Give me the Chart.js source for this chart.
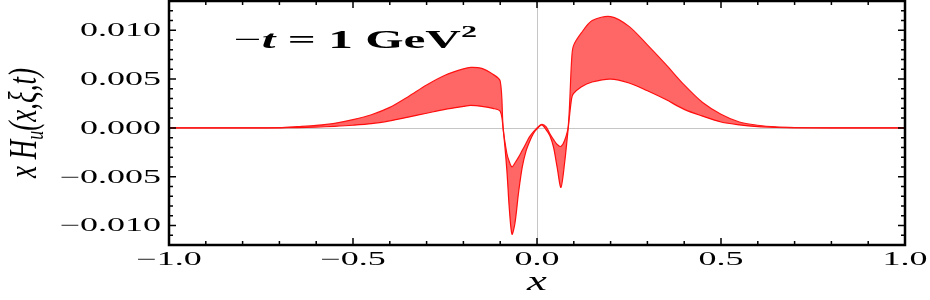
<!DOCTYPE html>
<html>
<head>
<meta charset="utf-8">
<script src="https://cdn.jsdelivr.net/npm/chart.js@4.4.1/dist/chart.umd.min.js"></script>
<style>
  html, body { margin: 0; padding: 0; background: #fff; }
  #wrap { width: 930px; height: 300px; }
</style>
</head>
<body>
<div id="wrap"><canvas id="gpdChart" width="930" height="300"></canvas></div>
<script>
// x H_u(x, xi, t) band at -t = 1 GeV^2
const xValues = [
  -1.0, -0.8, -0.7, -0.65, -0.6, -0.55, -0.5, -0.45, -0.4, -0.35,
  -0.3, -0.25, -0.2, -0.18, -0.15, -0.12, -0.1, -0.092, -0.082, -0.075,
  -0.068, -0.06, -0.05, -0.04, -0.03, -0.02, -0.01, 0, 0.013, 0.025,
  0.035, 0.045, 0.055, 0.065, 0.075, 0.085, 0.094, 0.099, 0.12, 0.15,
  0.2, 0.25, 0.3, 0.35, 0.4, 0.45, 0.5, 0.55, 0.6, 0.65,
  0.7, 0.8, 1.0
];
const upperBand = [
  0, 0, 0.00003, 0.00013, 0.00025, 0.00047, 0.00085, 0.00135, 0.0021, 0.0032,
  0.0044, 0.0054, 0.00605, 0.0062, 0.0061, 0.0055, 0.0048, 0.0000, -0.0026, -0.0035,
  -0.0040, -0.0036, -0.0030, -0.0023, -0.0016, -0.0009, -0.0004, 0.0000, 0.00035, 0.0001,
  -0.0006, -0.0012, -0.0017, -0.0019, -0.0013, 0.0002, 0.0069, 0.0084, 0.0097, 0.0110,
  0.0114, 0.0104, 0.0085, 0.0065, 0.0044, 0.0026, 0.0014, 0.0006, 0.00027, 0.0001,
  0.00004, 0, 0
];
const lowerBand = [
  0, 0, 0.00001, 0.00003, 0.00008, 0.00016, 0.00027, 0.00043, 0.00072, 0.0011,
  0.0015, 0.0019, 0.0022, 0.0023, 0.0022, 0.0020, 0.0017, -0.0001, -0.0043, -0.0084,
  -0.0109, -0.0098, -0.0066, -0.0040, -0.0024, -0.0014, -0.0006, -0.0001, 0.0003, -0.0002,
  -0.0008, -0.0020, -0.0041, -0.0061, -0.0036, 0.0000, 0.0030, 0.0035, 0.0042, 0.0047,
  0.0050, 0.0046, 0.0038, 0.0029, 0.0019, 0.0012, 0.0006, 0.0003, 0.00012, 0.00004,
  0, 0, 0
];

const xTickValues = [-1.0, -0.5, 0.0, 0.5, 1.0];
const xTickLabels = ['−1.0', '−0.5', '0.0', '0.5', '1.0'];
const yTickValues = [-0.010, -0.005, 0.000, 0.005, 0.010];
const yTickLabels = ['−0.010', '−0.005', '0.000', '0.005', '0.010'];
const xAxisTitle = 'x';
const yAxisTitle = ['x H', 'u', '(x,ξ,t)'];   // main, subscript, rest
const noteParts = ['−', 't', ' = 1 GeV', '2'];  // -t = 1 GeV^2

const serif = '"Liberation Serif", "Times New Roman", serif';

function stretchedText(ctx, text, x, y, sx, align) {
  ctx.save();
  ctx.translate(x, y);
  ctx.scale(sx, 1);
  ctx.textAlign = align;
  ctx.fillText(text, 0, 0);
  ctx.restore();
}

// mathematica style frame: inward ticks on all four sides, zero axes in grey
const framePlugin = {
  id: 'frame',
  beforeDatasetsDraw(chart) {
    const { ctx, chartArea: a, scales: { x, y } } = chart;
    const x0 = Math.round(x.getPixelForValue(0)) + 0.5;
    const y0 = Math.round(y.getPixelForValue(0)) + 0.5;
    ctx.save();
    ctx.strokeStyle = '#c6c6c6';
    ctx.lineWidth = 1;
    ctx.beginPath();
    ctx.moveTo(x0, a.top); ctx.lineTo(x0, a.bottom);
    ctx.moveTo(a.left, y0); ctx.lineTo(a.right, y0);
    ctx.stroke();
    ctx.restore();
  },
  afterDraw(chart) {
    const { ctx, chartArea: a, scales: { x, y } } = chart;
    ctx.save();
    ctx.strokeStyle = '#000';
    ctx.lineWidth = 1.5;
    ctx.beginPath();
    for (let i = 0; i <= 20; i++) {
      const px = x.getPixelForValue(-1 + i * 0.1);
      const len = i % 5 === 0 ? 7 : 4;
      ctx.moveTo(px, a.bottom); ctx.lineTo(px, a.bottom - len);
      ctx.moveTo(px, a.top); ctx.lineTo(px, a.top + len);
    }
    for (let i = -12; i <= 13; i++) {
      const py = y.getPixelForValue(i * 0.001);
      const len = i % 5 === 0 ? 7 : 4;
      ctx.moveTo(a.left, py); ctx.lineTo(a.left + len, py);
      ctx.moveTo(a.right, py); ctx.lineTo(a.right - len, py);
    }
    ctx.stroke();

    ctx.lineWidth = 2.5;
    ctx.strokeRect(a.left, a.top, a.right - a.left, a.bottom - a.top);

    // tick labels
    ctx.fillStyle = '#000';
    ctx.textBaseline = 'alphabetic';
    ctx.font = `18px ${serif}`;
    yTickValues.forEach((v, i) => {
      stretchedText(ctx, yTickLabels[i], a.left - 8, y.getPixelForValue(v) + 6, 2.0, 'right');
    });
    xTickValues.forEach((v, i) => {
      stretchedText(ctx, xTickLabels[i], x.getPixelForValue(v), a.bottom + 20, 2.0, 'center');
    });

    // x title
    ctx.font = `italic 28px ${serif}`;
    stretchedText(ctx, xAxisTitle, (a.left + a.right) / 2, 290, 1.6, 'center');

    // y title, rotated
    ctx.save();
    ctx.translate(36, (a.top + a.bottom) / 2);
    ctx.rotate(-Math.PI / 2);
    ctx.scale(1, 1.45);
    const mainFont = `italic 27px ${serif}`;
    const subFont = `italic 18px ${serif}`;
    ctx.font = mainFont;
    const w0 = ctx.measureText(yAxisTitle[0]).width;
    const w2 = ctx.measureText(yAxisTitle[2]).width;
    ctx.font = subFont;
    const w1 = ctx.measureText(yAxisTitle[1]).width;
    let cx = -(w0 + w1 + w2) / 2;
    ctx.textAlign = 'left';
    ctx.font = mainFont;
    ctx.fillText(yAxisTitle[0], cx, 0); cx += w0;
    ctx.font = subFont;
    ctx.fillText(yAxisTitle[1], cx, 5); cx += w1;
    ctx.font = mainFont;
    ctx.fillText(yAxisTitle[2], cx, 0);
    ctx.restore();

    // annotation -t = 1 GeV^2
    const fonts = [`26px ${serif}`, `italic bold 26px ${serif}`, `bold 26px ${serif}`, `bold 17px ${serif}`];
    const lifts = [0, 0, 0, -11];
    const widths = noteParts.map((t, i) => { ctx.font = fonts[i]; return ctx.measureText(t).width; });
    const total = widths.reduce((s, w) => s + w, 0);
    const sx = (477 - 234) / total;
    ctx.save();
    ctx.translate(234, 48);
    ctx.scale(sx, 1);
    ctx.textAlign = 'left';
    let nx = 0;
    noteParts.forEach((t, i) => {
      ctx.font = fonts[i];
      ctx.fillText(t, nx, lifts[i]);
      nx += widths[i];
    });
    ctx.restore();

    ctx.restore();
  }
};

new Chart(document.getElementById('gpdChart'), {
  type: 'line',
  data: {
    datasets: [
      {
        label: 'upper',
        data: xValues.map((v, i) => ({ x: v, y: upperBand[i] })),
        borderColor: '#ff1414',
        borderWidth: 1.2,
        backgroundColor: 'rgba(255, 0, 0, 0.6)',
        fill: '+1',
        pointRadius: 0,
        tension: 0.3,
      },
      {
        label: 'lower',
        data: xValues.map((v, i) => ({ x: v, y: lowerBand[i] })),
        borderColor: '#ff1414',
        borderWidth: 1.2,
        fill: false,
        pointRadius: 0,
        tension: 0.3,
      },
    ],
  },
  options: {
    responsive: false,
    animation: false,
    layout: { padding: { left: 169, right: 25, top: 1, bottom: 55 } },
    plugins: { legend: { display: false }, tooltip: { enabled: false } },
    scales: {
      x: { type: 'linear', min: -1, max: 1, display: false },
      y: { type: 'linear', min: -0.012, max: 0.013, display: false },
    },
  },
  plugins: [framePlugin],
});
</script>
</body>
</html>
